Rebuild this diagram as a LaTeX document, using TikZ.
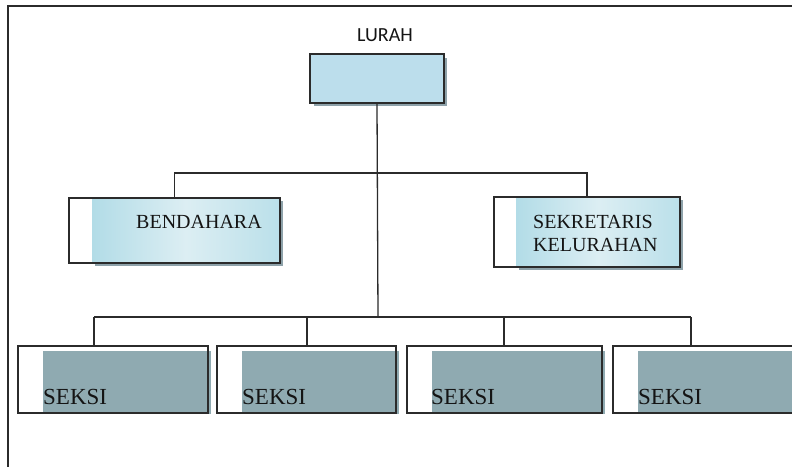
\documentclass[tikz,border=0pt]{standalone}
\usepackage{fontspec}
\setmainfont{Liberation Serif}
\newfontfamily\lurahfont{Carlito}
\definecolor{linec}{HTML}{2B2B2B}
\definecolor{lurahfill}{HTML}{BCDEEC}
\definecolor{shadowc}{HTML}{8EA2AA}
\definecolor{seksifill}{HTML}{8FAAB1}
\definecolor{gradA}{HTML}{B2DCE7}
\definecolor{gradB}{HTML}{DCEEF3}
\definecolor{txt}{HTML}{141414}
\begin{document}
\begin{tikzpicture}[x=1pt,y=-1pt,
  conn/.style={draw=linec, line width=1.3pt},
  box/.style={draw=linec, line width=1.3pt, rectangle, inner sep=0pt},
  lbl/.style={inner sep=0pt, text=txt, font=\fontsize{20}{24}\selectfont},
  seksilbl/.style={inner sep=0pt, text=txt, font=\fontsize{23}{27}\selectfont, anchor=base west},
  shade/.style={left color=gradA, right color=gradA!80!gradB, middle color=gradB}]
\clip (0,0) rectangle (792,466);
\fill[white] (0,0) rectangle (792,466);
% frame
\draw[draw=linec, line width=1.6pt] (8,470) -- (8,6) -- (800,6);

% LURAH
\node[lbl, anchor=base, font=\lurahfont\fontsize{20}{24}\selectfont] (lurahtxt) at (385,41) {LURAH};
\fill[shadowc] (314,58) rectangle (447,106);
\node[box, fill=lurahfill, minimum width=134pt, minimum height=49pt] (lurah) at (377,78.5) {};

% BENDAHARA
\fill[shadowc] (95,201) rectangle (283,266);
\fill[shade] (92,198) rectangle (280,263);
\node[box, minimum width=211pt, minimum height=65pt] (bend) at (174.5,230.5) {};
\node[lbl, anchor=base west] (bendtxt) at (136,228) {BENDAHARA};

% SEKRETARIS
\fill[shadowc] (519,200) rectangle (683,270);
\fill[shade] (516,197) rectangle (680,267);
\node[box, minimum width=186pt, minimum height=70pt] (sek) at (587,232) {};
\node[lbl, anchor=base west] (sektxt1) at (533,228) {SEKRETARIS};
\node[lbl, anchor=base west] (sektxt2) at (533,251.5) {KELURAHAN};

% SEKSI boxes
\fill[seksifill] (43,351) rectangle (211,414);
\fill[seksifill] (242,351) rectangle (399,414);
\fill[seksifill] (432,351) rectangle (605,414);
\fill[seksifill] (638,351) rectangle (800,414);
\node[box, minimum width=190pt, minimum height=67pt] (s1) at (113,379.5) {};
\node[box, minimum width=179pt, minimum height=67pt] (s2) at (306.5,379.5) {};
\node[box, minimum width=195pt, minimum height=67pt] (s3) at (504.5,379.5) {};
\node[box, minimum width=200pt, minimum height=67pt] (s4) at (713,379.5) {};
\node[seksilbl] (s1txt) at (43,404) {SEKSI};
\node[seksilbl] (s2txt) at (242,404) {SEKSI};
\node[seksilbl] (s3txt) at (431,404) {SEKSI};
\node[seksilbl] (s4txt) at (638,404) {SEKSI};

% connectors
\coordinate (j1) at (378,173);
\coordinate (j2) at (378,317);
\coordinate (k1) at (94,317);
\coordinate (k2) at (307,317);
\coordinate (k3) at (504,317);
\coordinate (k4) at (691,317);
\draw[conn] (lurah.south) -- (j2);
\draw[conn] (bend.north) |- (j1) -| (sek.north);
\draw[conn] (k1) -- (k4);
\draw[conn] (k1) -- (k1 |- s1.north);
\draw[conn] (k2) -- (k2 |- s2.north);
\draw[conn] (k3) -- (k3 |- s3.north);
\draw[conn] (k4) -- (k4 |- s4.north);
\end{tikzpicture}
\end{document}
